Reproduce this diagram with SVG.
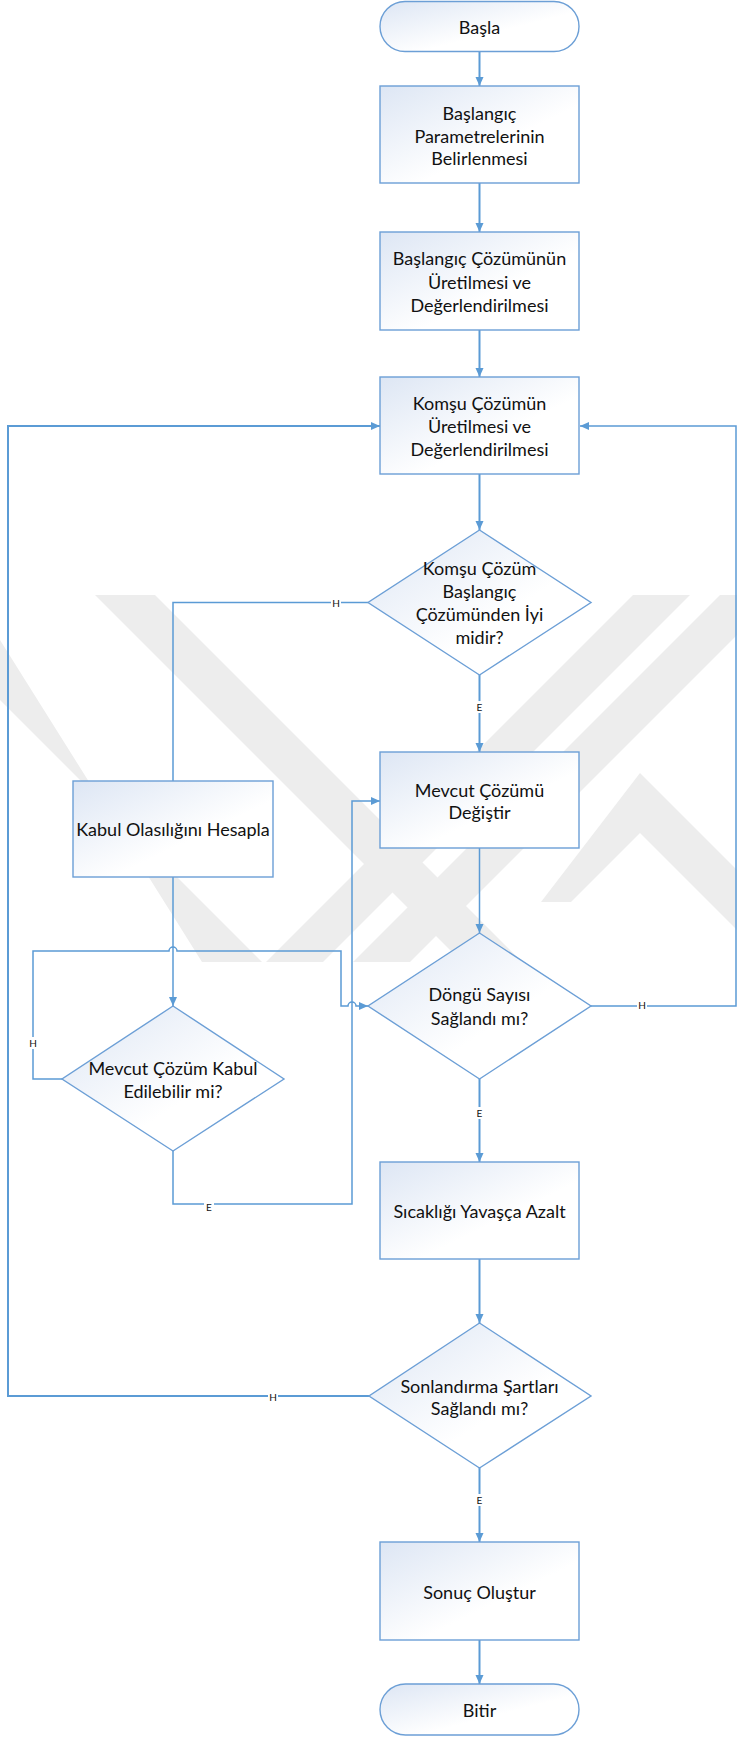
<svg xmlns="http://www.w3.org/2000/svg" width="737" height="1737" viewBox="0 0 737 1737">
  <defs>
    <linearGradient id="nodeFill" x1="0" y1="0" x2="1" y2="1">
      <stop offset="0" stop-color="#dde6f4"/>
      <stop offset="0.6" stop-color="#ffffff"/>
      <stop offset="1" stop-color="#ffffff"/>
    </linearGradient>
    <marker id="arrow" markerWidth="10" markerHeight="10" refX="9" refY="5" orient="auto" markerUnits="userSpaceOnUse">
      <path d="M0,1 L9,5 L0,9 Z" fill="#5b9bd5"/>
    </marker>
    <clipPath id="wmClip">
      <rect x="0" y="595" width="737" height="367"/>
    </clipPath>
  </defs>
  <style>
    .node { fill: url(#nodeFill); stroke: #6c9fd6; stroke-width: 1.4; }
    .lbl { font-family: Lato, "Open Sans", sans-serif; font-size: 18px; fill: #111; text-anchor: middle; dominant-baseline: central; }
    .small { font-family: Lato, "Open Sans", sans-serif; font-size: 10px; fill: #111; text-anchor: middle; dominant-baseline: central; }
    .flow { fill: none; stroke: #5b9bd5; stroke-width: 2; }
    .loop { fill: none; stroke: #5b9bd5; stroke-width: 1.5; }
    .tag { fill: #ffffff; }
    .wm { fill: #ededed; }
  </style>

  <rect width="737" height="1737" fill="#ffffff"/>

  <!-- faint background stripes -->
  <g id="watermark" clip-path="url(#wmClip)">
    <polygon class="wm" points="95,595 155,595 522,962 462,962"/>
    <polygon class="wm" points="0,640 0,700 262,962 202,962"/>
    <polygon class="wm" points="633,595 690,595 323,962 266,962"/>
    <polygon class="wm" points="720,595 777,595 410,962 353,962"/>
    <polygon class="wm" points="640,773 737,870 737,930 640,833 571,902 541,902"/>
  </g>

  <!-- connectors -->
  <g id="connectors">
    <line class="flow" x1="479.5" y1="52" x2="479.5" y2="86" marker-end="url(#arrow)"/>
    <line class="flow" x1="479.5" y1="183" x2="479.5" y2="232" marker-end="url(#arrow)"/>
    <line class="flow" x1="479.5" y1="330" x2="479.5" y2="377" marker-end="url(#arrow)"/>
    <line class="flow" x1="479.5" y1="474" x2="479.5" y2="530" marker-end="url(#arrow)"/>
    <line class="flow" x1="479.5" y1="675" x2="479.5" y2="752" marker-end="url(#arrow)"/>
    <path class="loop" d="M368,602.5 H173 V781"/>
    <line class="loop" x1="173" y1="877" x2="173" y2="1006" marker-end="url(#arrow)"/>
    <path class="loop" d="M62,1079 H33 V951 H169 A4,4 0 0 1 177,951 H341 V1006 H348 A4,4 0 0 1 356,1006 H368" marker-end="url(#arrow)"/>
    <path class="loop" d="M173,1151 V1204 H352 V801 H380" marker-end="url(#arrow)"/>
    <line class="loop" x1="479.5" y1="848" x2="479.5" y2="933" marker-end="url(#arrow)"/>
    <line class="flow" x1="479.5" y1="1079" x2="479.5" y2="1162" marker-end="url(#arrow)"/>
    <path class="loop" d="M591,1006 H736 V426 H580" marker-end="url(#arrow)"/>
    <line class="flow" x1="479.5" y1="1259" x2="479.5" y2="1323" marker-end="url(#arrow)"/>
    <line class="flow" x1="479.5" y1="1468" x2="479.5" y2="1542" marker-end="url(#arrow)"/>
    <path class="flow" d="M369,1396 H8 V426 H380" marker-end="url(#arrow)"/>
    <line class="flow" x1="479.5" y1="1640" x2="479.5" y2="1684" marker-end="url(#arrow)"/>

    <!-- branch tags -->
    <rect class="tag" x="331" y="597" width="10" height="12"/>
    <text class="small" x="336" y="603">H</text>
    <rect class="tag" x="474.5" y="701" width="10" height="12"/>
    <text class="small" x="479.5" y="707">E</text>
    <rect class="tag" x="28" y="1037" width="10" height="12"/>
    <text class="small" x="33" y="1043">H</text>
    <rect class="tag" x="204" y="1201" width="10" height="12"/>
    <text class="small" x="209" y="1207">E</text>
    <rect class="tag" x="637" y="999" width="10" height="12"/>
    <text class="small" x="642" y="1005">H</text>
    <rect class="tag" x="474.5" y="1107" width="10" height="12"/>
    <text class="small" x="479.5" y="1113">E</text>
    <rect class="tag" x="268" y="1390" width="10" height="12"/>
    <text class="small" x="273" y="1397">H</text>
    <rect class="tag" x="474.5" y="1494" width="10" height="12"/>
    <text class="small" x="479.5" y="1500">E</text>
  </g>

  <g id="start">
    <rect class="node" x="380" y="1.5" width="199" height="50" rx="25" ry="25"/>
    <text class="lbl" x="479.5" y="27">Başla</text>
  </g>

  <g id="init-params">
    <rect class="node" x="380" y="86" width="199" height="97"/>
    <text class="lbl" x="479.5" y="113">Başlangıç</text>
    <text class="lbl" x="479.5" y="136">Parametrelerinin</text>
    <text class="lbl" x="479.5" y="158">Belirlenmesi</text>
  </g>

  <g id="init-solution">
    <rect class="node" x="380" y="232" width="199" height="98"/>
    <text class="lbl" x="479.5" y="258">Başlangıç Çözümünün</text>
    <text class="lbl" x="479.5" y="282">Üretilmesi ve</text>
    <text class="lbl" x="479.5" y="305">Değerlendirilmesi</text>
  </g>

  <g id="neighbour">
    <rect class="node" x="380" y="377" width="199" height="97"/>
    <text class="lbl" x="479.5" y="403">Komşu Çözümün</text>
    <text class="lbl" x="479.5" y="426">Üretilmesi ve</text>
    <text class="lbl" x="479.5" y="449">Değerlendirilmesi</text>
  </g>

  <g id="is-better">
    <polygon class="node" points="479.5,530 591,602.5 479.5,675 368,602.5"/>
    <text class="lbl" x="479.5" y="568">Komşu Çözüm</text>
    <text class="lbl" x="479.5" y="591">Başlangıç</text>
    <text class="lbl" x="479.5" y="614">Çözümünden İyi</text>
    <text class="lbl" x="479.5" y="637">midir?</text>
  </g>

  <g id="replace-current">
    <rect class="node" x="380" y="752" width="199" height="96"/>
    <text class="lbl" x="479.5" y="790">Mevcut Çözümü</text>
    <text class="lbl" x="479.5" y="812">Değiştir</text>
  </g>

  <g id="acceptance">
    <rect class="node" x="73" y="781" width="200" height="96"/>
    <text class="lbl" x="173" y="829">Kabul Olasılığını Hesapla</text>
  </g>

  <g id="loop-count">
    <polygon class="node" points="479.5,933 591,1006 479.5,1079 368,1006"/>
    <text class="lbl" x="479.5" y="994">Döngü Sayısı</text>
    <text class="lbl" x="479.5" y="1018">Sağlandı mı?</text>
  </g>

  <g id="is-acceptable">
    <polygon class="node" points="173,1006 284,1079 173,1151 62,1079"/>
    <text class="lbl" x="173" y="1068">Mevcut Çözüm Kabul</text>
    <text class="lbl" x="173" y="1091">Edilebilir mi?</text>
  </g>

  <g id="cool-down">
    <rect class="node" x="380" y="1162" width="199" height="97"/>
    <text class="lbl" x="479.5" y="1211">Sıcaklığı Yavaşça Azalt</text>
  </g>

  <g id="stop-check">
    <polygon class="node" points="479.5,1323 591,1396 479.5,1468 369,1396"/>
    <text class="lbl" x="479.5" y="1386">Sonlandırma Şartları</text>
    <text class="lbl" x="479.5" y="1408">Sağlandı mı?</text>
  </g>

  <g id="result">
    <rect class="node" x="380" y="1542" width="199" height="98"/>
    <text class="lbl" x="479.5" y="1592">Sonuç Oluştur</text>
  </g>

  <g id="end">
    <rect class="node" x="380" y="1684" width="199" height="51" rx="25.5" ry="25.5"/>
    <text class="lbl" x="479.5" y="1710">Bitir</text>
  </g>
</svg>
